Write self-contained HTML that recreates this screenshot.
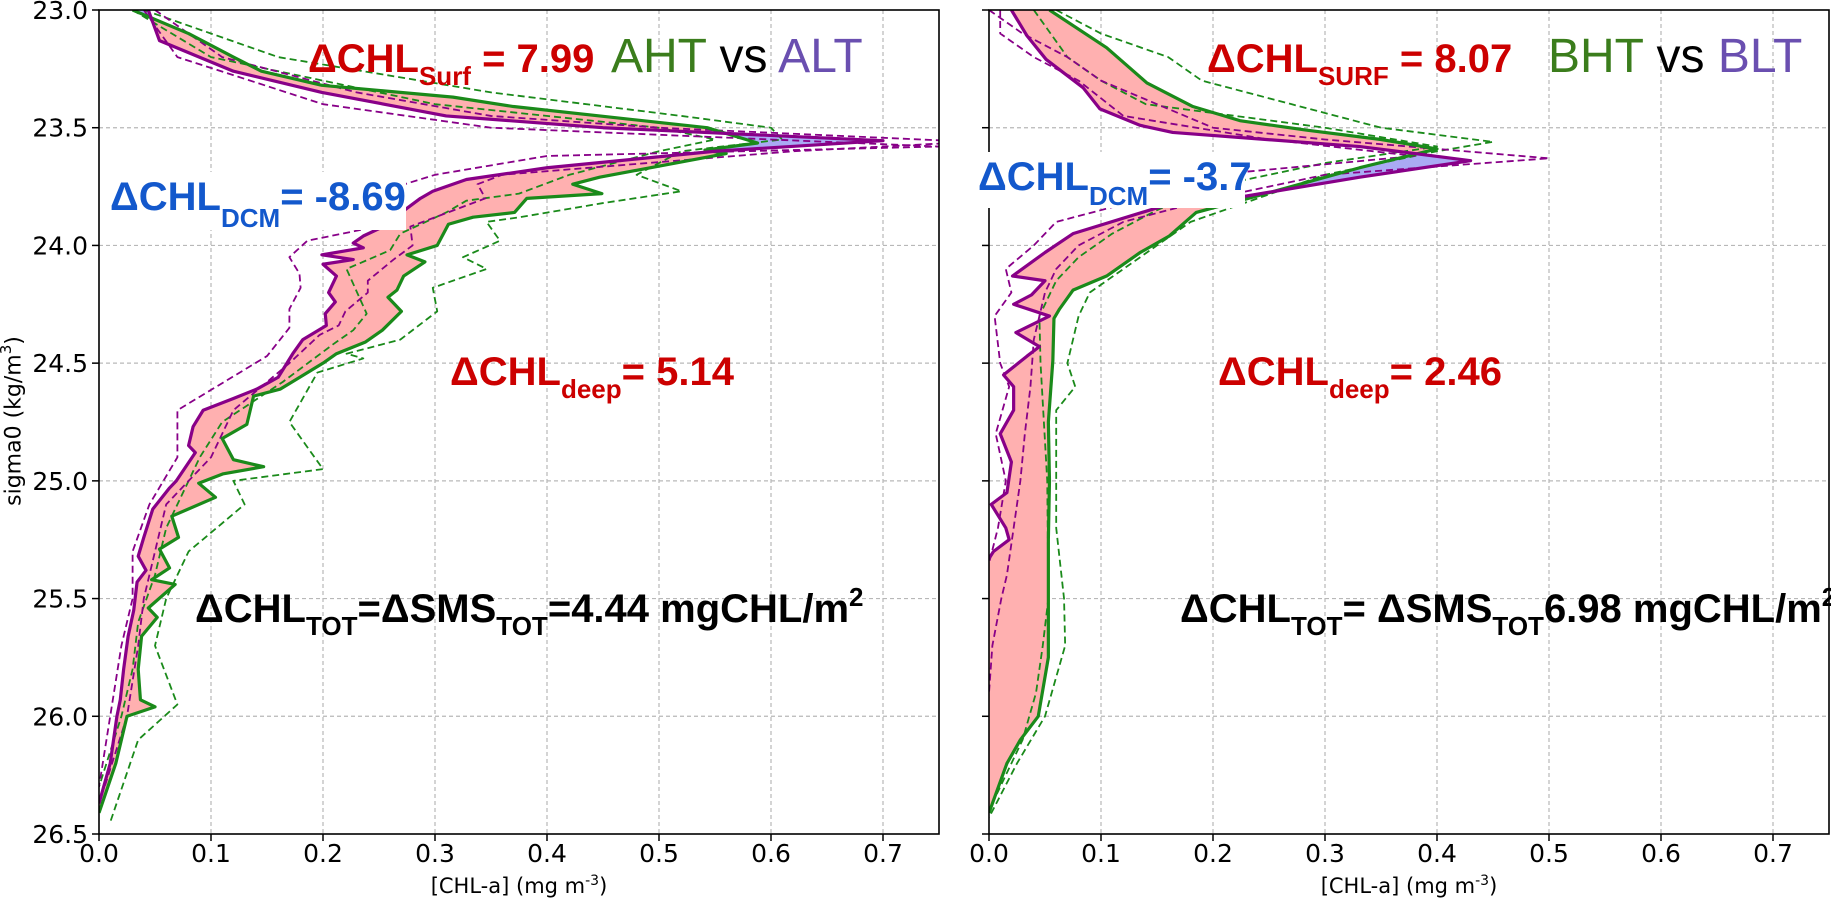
<!DOCTYPE html>
<html><head><meta charset="utf-8"><style>
html,body{margin:0;padding:0;background:#fff;}
svg{display:block;}
text{font-family:"DejaVu Sans","Liberation Sans",sans-serif;}
.ann{font-family:"Liberation Sans",Arial,sans-serif;font-weight:bold;font-size:40px;}
.ttl{font-family:"Liberation Sans",Arial,sans-serif;font-size:48px;}
</style></head><body>
<svg id="chart" width="1831" height="901" viewBox="0 0 1831 901" xmlns="http://www.w3.org/2000/svg">
<g id="panelA"></g>
<g id="panelB"></g>
<g id="texts">
  <text class="ann" x="308" y="72" fill="#cc0000">ΔCHL<tspan font-size="26" dy="13">Surf</tspan><tspan dy="-13"> = 7.99</tspan></text>
  <text class="ttl" x="611" y="72"><tspan fill="#3b7d1c">AHT</tspan><tspan fill="#000"> vs </tspan><tspan fill="#6a4fb0">ALT</tspan></text>
  <rect x="106" y="172" width="300" height="58" fill="#fff"/>
  <text class="ann" x="110" y="210" fill="#1358cc">ΔCHL<tspan font-size="26" dy="17">DCM</tspan><tspan dy="-17">= -8.69</tspan></text>
  <text class="ann" x="450" y="385" fill="#cc0000">ΔCHL<tspan font-size="26" dy="13">deep</tspan><tspan dy="-13">= 5.14</tspan></text>
  <text class="ann" x="195" y="622" fill="#000">ΔCHL<tspan font-size="26" dy="13">TOT</tspan><tspan dy="-13">=ΔSMS</tspan><tspan font-size="26" dy="13">TOT</tspan><tspan dy="-13">=4.44 mgCHL/m</tspan><tspan font-size="26" dy="-16">2</tspan></text>

  <text class="ann" x="1207" y="72" fill="#cc0000">ΔCHL<tspan font-size="26" dy="13">SURF</tspan><tspan dy="-13"> = 8.07</tspan></text>
  <text class="ttl" x="1548" y="72"><tspan fill="#3b7d1c">BHT</tspan><tspan fill="#000"> vs </tspan><tspan fill="#6a4fb0">BLT</tspan></text>
  <rect x="975" y="152" width="270" height="56" fill="#fff"/>
  <text class="ann" x="978" y="190" fill="#1358cc">ΔCHL<tspan font-size="26" dy="15">DCM</tspan><tspan dy="-15">= -3.7</tspan></text>
  <text class="ann" x="1218" y="385" fill="#cc0000">ΔCHL<tspan font-size="26" dy="13">deep</tspan><tspan dy="-13">= 2.46</tspan></text>
  <text class="ann" x="1180" y="622" fill="#000">ΔCHL<tspan font-size="26" dy="13">TOT</tspan><tspan dy="-13">= ΔSMS</tspan><tspan font-size="26" dy="13">TOT</tspan><tspan dy="-13">6.98 mgCHL/m</tspan><tspan font-size="26" dy="-16">2</tspan></text>

  <text x="14" y="421" font-size="22" text-anchor="middle" transform="rotate(-90 14 421)" dominant-baseline="central">sigma0 (kg/m<tspan font-size="15" dy="-8">3</tspan><tspan dy="8">)</tspan></text>
  <text x="519" y="893" font-size="21" text-anchor="middle">[CHL-a] (mg m<tspan font-size="14" dy="-8">-3</tspan><tspan dy="8">)</tspan></text>
  <text x="1409" y="893" font-size="21" text-anchor="middle">[CHL-a] (mg m<tspan font-size="14" dy="-8">-3</tspan><tspan dy="8">)</tspan></text>
</g>
</svg>
<script>
// ---------- data ----------
const xTicks = [0.0,0.1,0.2,0.3,0.4,0.5,0.6,0.7];
const yTicks = [23.0,23.5,24.0,24.5,25.0,25.5,26.0,26.5];
// Panel A: AHT (green) vs ALT (purple)
const aHTsig = [23.0,23.1,23.2,23.26,23.32,23.37,23.41,23.5,23.565,23.595,23.61,23.71,23.74,23.78,23.8,23.86,23.88,23.91,24.0,24.04,24.07,24.13,24.19,24.22,24.28,24.36,24.41,24.46,24.5,24.61,24.64,24.76,24.82,24.91,24.94,24.97,25.01,25.07,25.15,25.24,25.29,25.37,25.42,25.44,25.54,25.58,25.66,25.8,25.93,25.96,26.0,26.2,26.41];
const aHTval = [0.03,0.08,0.12,0.145,0.199,0.316,0.37,0.543,0.588,0.541,0.56,0.447,0.423,0.449,0.382,0.371,0.334,0.312,0.302,0.275,0.291,0.272,0.266,0.258,0.27,0.253,0.238,0.212,0.2,0.162,0.138,0.132,0.11,0.12,0.147,0.111,0.089,0.104,0.065,0.071,0.054,0.063,0.047,0.068,0.044,0.052,0.038,0.035,0.037,0.05,0.025,0.015,0.0];
const aLTsig = [23.0,23.13,23.26,23.35,23.45,23.5,23.555,23.6,23.67,23.72,23.77,23.8,23.86,23.92,23.96,23.99,24.01,24.04,24.06,24.08,24.13,24.2,24.24,24.29,24.34,24.4,24.46,24.56,24.61,24.65,24.7,24.77,24.85,24.88,25.0,25.03,25.12,25.24,25.32,25.38,25.43,25.55,25.66,25.8,25.93,26.0,26.2,26.37];
const aLTval = [0.044,0.054,0.12,0.199,0.31,0.45,0.70,0.55,0.40,0.328,0.298,0.287,0.27,0.254,0.236,0.227,0.236,0.199,0.227,0.2,0.212,0.205,0.211,0.202,0.203,0.182,0.173,0.16,0.141,0.12,0.093,0.084,0.08,0.086,0.069,0.063,0.048,0.04,0.035,0.042,0.034,0.031,0.026,0.022,0.019,0.016,0.01,0.0];
const aHTdHiSig = [23.0,23.2,23.35,23.45,23.5,23.55,23.6,23.7,23.77,23.82,23.88,23.9,23.98,24.05,24.1,24.18,24.28,24.4,24.46,24.48,24.54,24.75,24.95,25.0,25.1,25.3,25.5,25.7,25.95,26.1,26.45];
const aHTdHiVal = [0.04,0.16,0.35,0.52,0.6,0.61,0.52,0.48,0.52,0.45,0.376,0.346,0.358,0.325,0.346,0.298,0.302,0.269,0.221,0.236,0.195,0.17,0.2,0.12,0.13,0.08,0.06,0.05,0.07,0.035,0.01];
const aHTdLoSig = [23.0,23.2,23.4,23.5,23.55,23.6,23.7,23.78,23.81,23.86,23.95,24.02,24.1,24.29,24.36,24.42,24.58,24.75,24.9,25.0,25.2,25.4,25.6,25.8,26.0,26.3];
const aHTdLoVal = [0.03,0.1,0.3,0.5,0.55,0.5,0.42,0.375,0.328,0.31,0.269,0.26,0.221,0.239,0.227,0.209,0.164,0.11,0.09,0.08,0.06,0.05,0.035,0.03,0.02,0.0];
const aLTdLoSig = [23.0,23.2,23.4,23.5,23.55,23.58,23.62,23.7,23.75,23.89,23.93,23.98,24.05,24.12,24.18,24.27,24.35,24.47,24.7,24.9,25.1,25.3,25.5,25.7,26.0,26.3];
const aLTdLoVal = [0.04,0.07,0.2,0.35,0.6,0.75,0.4,0.3,0.266,0.209,0.238,0.186,0.17,0.179,0.18,0.17,0.17,0.15,0.07,0.07,0.045,0.03,0.03,0.02,0.01,0.0];
const aLTdHiSig = [23.0,23.2,23.35,23.45,23.5,23.56,23.6,23.7,23.74,23.8,23.92,24.0,24.06,24.15,24.2,24.28,24.34,24.38,24.5,24.7,24.9,25.1,25.3,25.5,25.7,26.0,26.3];
const aLTdHiVal = [0.05,0.11,0.23,0.35,0.5,0.78,0.62,0.36,0.338,0.345,0.278,0.28,0.263,0.24,0.24,0.22,0.214,0.197,0.17,0.12,0.1,0.06,0.05,0.04,0.035,0.025,0.005];
// Panel B: BHT (green) vs BLT (purple)
const bHTsig = [23.0,23.16,23.31,23.41,23.47,23.51,23.55,23.59,23.67,23.81,23.86,23.96,24.03,24.13,24.19,24.27,24.31,24.49,24.75,25.0,25.25,25.5,25.75,26.0,26.1,26.2,26.41];
const bHTval = [0.054,0.105,0.141,0.182,0.224,0.283,0.35,0.40,0.331,0.224,0.185,0.161,0.135,0.105,0.075,0.063,0.058,0.057,0.053,0.054,0.053,0.053,0.053,0.044,0.028,0.016,0.0];
const bLTsig = [23.0,23.11,23.21,23.33,23.42,23.49,23.52,23.58,23.64,23.71,23.79,23.82,23.95,24.03,24.13,24.15,24.21,24.25,24.3,24.37,24.43,24.47,24.55,24.6,24.7,24.8,24.92,25.05,25.1,25.2,25.25,25.3,25.33];
const bLTval = [0.02,0.034,0.051,0.084,0.099,0.135,0.164,0.331,0.43,0.331,0.23,0.164,0.075,0.05,0.021,0.05,0.038,0.022,0.054,0.024,0.045,0.034,0.013,0.022,0.022,0.01,0.02,0.016,0.002,0.015,0.018,0.004,0.0];
const bHTdHiSig = [23.0,23.1,23.2,23.3,23.4,23.5,23.56,23.6,23.7,23.8,23.9,24.0,24.1,24.2,24.3,24.5,24.6,24.7,25.0,25.2,25.5,25.7,26.0,26.2,26.43];
const bHTdHiVal = [0.06,0.1,0.16,0.19,0.27,0.35,0.45,0.4,0.3,0.24,0.18,0.15,0.12,0.09,0.08,0.07,0.077,0.06,0.06,0.06,0.067,0.068,0.05,0.025,0.0];
const bHTdLoSig = [23.0,23.2,23.3,23.4,23.5,23.58,23.65,23.75,23.85,23.95,24.05,24.15,24.3,24.5,25.0,25.5,25.7,25.9,26.1,26.4];
const bHTdLoVal = [0.04,0.07,0.1,0.14,0.3,0.4,0.3,0.2,0.15,0.11,0.08,0.06,0.045,0.046,0.052,0.053,0.048,0.042,0.03,0.0];
const bLTdHiSig = [23.0,23.1,23.2,23.3,23.4,23.5,23.55,23.63,23.7,23.8,23.9,24.0,24.1,24.2,24.4,24.6,24.8,25.0,25.2,25.4,25.5,25.7,25.9];
const bLTdHiVal = [0.0,0.03,0.07,0.1,0.15,0.2,0.3,0.5,0.3,0.2,0.12,0.08,0.06,0.05,0.04,0.037,0.032,0.028,0.022,0.016,0.011,0.003,0.0];
const bLTdLoSig = [23.0,23.1,23.2,23.3,23.45,23.55,23.62,23.7,23.8,23.9,24.0,24.1,24.2,24.3,24.5,24.6,24.8,25.0,25.2,25.35];
const bLTdLoVal = [0.01,0.01,0.04,0.08,0.12,0.25,0.38,0.2,0.14,0.06,0.04,0.015,0.02,0.005,0.01,0.018,0.006,0.015,0.008,0.0];

// ---------- drawing ----------
const NS = "http://www.w3.org/2000/svg";
const TOP = 10, BOT = 834, Y0 = 23.0, Y1 = 26.5, XMAX = 0.75;
function mk(tag, attrs, parent){ const e=document.createElementNS(NS,tag); for(const k in attrs) e.setAttribute(k,attrs[k]); parent.appendChild(e); return e; }
function interp(sig, val, s){
  if (s < sig[0]) return val[0];
  if (s > sig[sig.length-1]) return 0;
  for (let i=0;i<sig.length-1;i++){ if (s>=sig[i] && s<=sig[i+1]){ const t=(s-sig[i])/(sig[i+1]-sig[i]||1); return val[i]+t*(val[i+1]-val[i]); } }
  return 0;
}
function drawPanel(g, left, right, showY, HT, LT, HTd, LTd){
  const xs = v => left + v/XMAX*(right-left);
  const ys = s => TOP + (s-Y0)/(Y1-Y0)*(BOT-TOP);
  const clipId = 'clip'+left;
  const defs = mk('defs',{},g);
  const cp = mk('clipPath',{id:clipId},defs);
  mk('rect',{x:left,y:TOP,width:right-left,height:BOT-TOP},cp);
  const grid = mk('g',{},g);
  
  
  xTicks.slice(1).forEach(v=>{ mk('line',{x1:xs(v),x2:xs(v),y1:TOP,y2:BOT,stroke:'#b8b8b8','stroke-width':1.2,'stroke-dasharray':'4,3'},grid); });
  yTicks.slice(1,-1).forEach(s=>{ mk('line',{x1:left,x2:right,y1:ys(s),y2:ys(s),stroke:'#b8b8b8','stroke-width':1.2,'stroke-dasharray':'4,3'},grid); });
  const plot = mk('g',{'clip-path':'url(#'+clipId+')'},g);
  const grd=[]; for(let s=Y0; s<=Y1+1e-9; s+=0.005) grd.push(+s.toFixed(3));
  const gv = grd.map(s=>interp(HT[0],HT[1],s)), pv = grd.map(s=>interp(LT[0],LT[1],s));
  let red='';
  grd.forEach((s,i)=>{ red += (i?'L':'M')+xs(Math.max(gv[i],pv[i]))+','+ys(s); });
  let redB=red, blueB=red;
  for(let i=grd.length-1;i>=0;i--){ redB += 'L'+xs(pv[i])+','+ys(grd[i]); blueB += 'L'+xs(gv[i])+','+ys(grd[i]); }
  const rf = mk('path',{d:redB+'Z',fill:'#ffb0b0',stroke:'none'},plot);
  
  
  const bf = mk('path',{d:blueB+'Z',fill:'#aaaaf4',stroke:'none'},plot);
  
  
  function line(sig,val,color,w,dash,name){
    const d = sig.map((s,i)=>(i?'L':'M')+xs(val[i])+','+ys(s)).join('');
    const p = mk('path',{d:d,fill:'none',stroke:color,'stroke-width':w,'stroke-linejoin':'round'},plot);
    if(dash) p.setAttribute('stroke-dasharray',dash);
    
    
  }
  line(HTd[0][0],HTd[0][1],'#1a8a1a',1.8,'7,4','ht-upper-dashed');
  line(HTd[1][0],HTd[1][1],'#1a8a1a',1.8,'7,4','ht-lower-dashed');
  line(LTd[0][0],LTd[0][1],'#880088',1.8,'7,4','lt-lower-dashed');
  line(LTd[1][0],LTd[1][1],'#880088',1.8,'7,4','lt-upper-dashed');
  line(HT[0],HT[1],'#1a8a1a',3.2,null,'ht-mean-line');
  line(LT[0],LT[1],'#880088',3.2,null,'lt-mean-line');
  const ax = mk('rect',{x:left,y:TOP,width:right-left,height:BOT-TOP,fill:'none',stroke:'#000','stroke-width':1.6},g);
  
  
  xTicks.forEach(v=>{
    mk('line',{x1:xs(v),x2:xs(v),y1:BOT,y2:BOT+7,stroke:'#000','stroke-width':1.5},g);
    const t = mk('text',{x:xs(v),y:862,'font-size':25,'text-anchor':'middle'},g);
    t.textContent = v.toFixed(1);
    
    
  });
  yTicks.forEach(s=>{
    mk('line',{x1:left-7,x2:left,y1:ys(s),y2:ys(s),stroke:'#000','stroke-width':1.5},g);
    if(showY){
      const t = mk('text',{x:left-11,y:ys(s)+9,'font-size':25,'text-anchor':'end'},g);
      t.textContent = s.toFixed(1);
      
      
    }
  });
}
drawPanel(document.getElementById('panelA'),99,939,true,[aHTsig,aHTval],[aLTsig,aLTval],
  [[aHTdHiSig,aHTdHiVal],[aHTdLoSig,aHTdLoVal]],[[aLTdLoSig,aLTdLoVal],[aLTdHiSig,aLTdHiVal]]);
drawPanel(document.getElementById('panelB'),989,1829,false,[bHTsig,bHTval],[bLTsig,bLTval],
  [[bHTdHiSig,bHTdHiVal],[bHTdLoSig,bHTdLoVal]],[[bLTdLoSig,bLTdLoVal],[bLTdHiSig,bLTdHiVal]]);
const svg=document.getElementById('chart'); svg.appendChild(document.getElementById('texts'));
</script>
</body></html>
